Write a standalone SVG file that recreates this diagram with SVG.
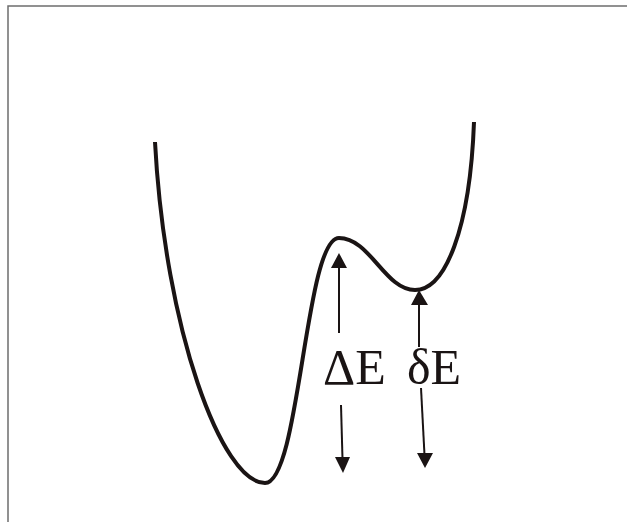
<svg xmlns="http://www.w3.org/2000/svg" width="627" height="522" viewBox="0 0 627 522">
<style>
.frame{fill:none;stroke:#6e6e6e;stroke-width:1.5}
.curve{fill:none;stroke:#1a1414;stroke-width:4;stroke-linecap:butt}
.shaft{fill:none;stroke:#1a1414;stroke-width:2}
.head{fill:#1a1414}
.lbl{font-family:"Liberation Serif","Times New Roman",serif;font-size:50px;fill:#1a1414}
</style>
<rect width="627" height="522" fill="#ffffff"/>
<path class="frame" d="M8,530 V6 H640"/>
<g id="potential">
<path class="curve" d="M155,142 C165,330 222,483 265,483 C300,483 305,238 339,238 C370,238 385,290 415,290 C445,290 470,230 474,122"/>
</g>
<g id="connectors">
<g id="arrow-dE-up">
<path class="shaft" d="M339,266 L339,333"/>
<polygon class="head" points="339,253 331,268 347,268"/>
</g>
<g id="arrow-dE-down">
<path class="shaft" d="M341,405 L342.5,459"/>
<polygon class="head" points="343,473 335,457 350,457"/>
</g>
<g id="arrow-de-up">
<path class="shaft" d="M419,303 L419,347"/>
<polygon class="head" points="419,290 411,305 428,305"/>
</g>
<g id="arrow-de-down">
<path class="shaft" d="M421,388 L424.5,455"/>
<polygon class="head" points="425,468 417,453 433,453"/>
</g>
</g>
<g id="labels">
<text class="lbl" x="323" y="384">ΔE</text>
<text class="lbl" x="407" y="384">δE</text>
</g>
</svg>
